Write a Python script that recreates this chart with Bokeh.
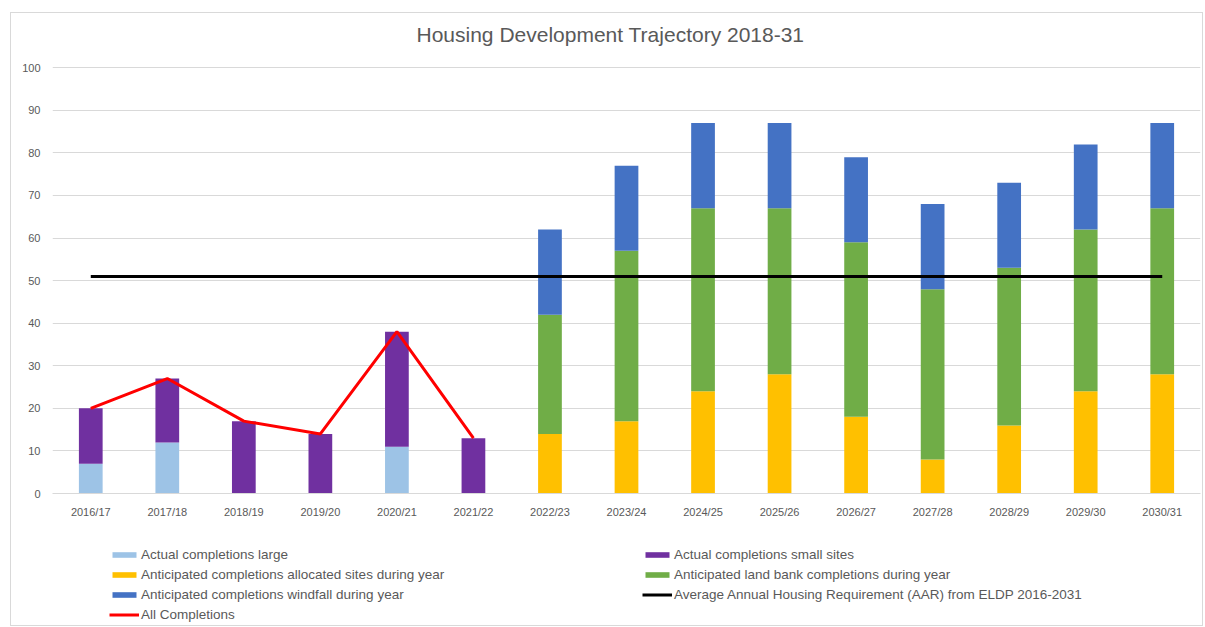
from bokeh.plotting import figure
from bokeh.layouts import column
from bokeh.models import Legend, LegendItem, FactorRange, ColumnDataSource, Title
from bokeh.embed import file_html
from bokeh.resources import INLINE

years = ["2016/17", "2017/18", "2018/19", "2019/20", "2020/21", "2021/22", "2022/23",
         "2023/24", "2024/25", "2025/26", "2026/27", "2027/28", "2028/29", "2029/30", "2030/31"]
actual_large = [7, 12, 0, 0, 11, 0, 0, 0, 0, 0, 0, 0, 0, 0, 0]
actual_small = [13, 15, 17, 14, 27, 13, 0, 0, 0, 0, 0, 0, 0, 0, 0]
allocated = [0, 0, 0, 0, 0, 0, 14, 17, 24, 28, 18, 8, 16, 24, 28]
land_bank = [0, 0, 0, 0, 0, 0, 28, 40, 43, 39, 41, 40, 37, 38, 39]
windfall = [0, 0, 0, 0, 0, 0, 20, 20, 20, 20, 20, 20, 20, 20, 20]
aar = [51] * 15
all_completions_years = years[:6]
all_completions = [20, 27, 17, 14, 38, 13]

series = ["large", "small", "allocated", "land_bank", "windfall"]
colors = ["#9DC3E6", "#7030A0", "#FFC000", "#70AD47", "#4472C4"]
labels = ["Actual completions large", "Actual completions small sites",
          "Anticipated completions allocated sites during year",
          "Anticipated land bank completions during year",
          "Anticipated completions windfall during year"]
aar_label = "Average Annual Housing Requirement (AAR) from ELDP 2016-2031"
all_label = "All Completions"
chart_title = "Housing Development Trajectory 2018-31"

src = ColumnDataSource(dict(x=years, large=actual_large, small=actual_small,
                            allocated=allocated, land_bank=land_bank, windfall=windfall, aar=aar))

p = figure(x_range=FactorRange(*years, range_padding=0), y_range=(0, 100.3),
           width=1191, height=507, output_backend="svg", toolbar_location=None,
           min_border_left=41, min_border_right=2, min_border_top=53)
p.title = None

# spacer panel between frame and title, then the title itself
p.add_layout(Title(text=" ", text_font_size="1px", standoff=18), "above")
p.add_layout(Title(text=chart_title, align="left", offset=364, standoff=0,
                   text_font="Liberation Sans", text_font_size="21px",
                   text_font_style="normal", text_color="#595959"), "above")

p.vbar_stack(series, x="x", width=0.31, color=colors, source=src, line_width=0)
p.line(x="x", y="aar", source=src, line_color="black", line_width=3)
p.line(x=all_completions_years, y=all_completions, line_color="#FF0000", line_width=3)

p.outline_line_color = None
p.xgrid.grid_line_color = None
p.ygrid.grid_line_color = "#d9d9d9"
p.ygrid.grid_line_width = 1
p.yaxis.ticker = list(range(0, 101, 10))
p.yaxis.axis_line_color = None
p.yaxis.major_tick_line_color = None
p.yaxis.minor_tick_line_color = None
p.yaxis.major_label_text_color = "#595959"
p.yaxis.major_label_text_font = "Liberation Sans"
p.yaxis.major_label_text_font_size = "11px"
p.yaxis.major_label_standoff = 6
p.xaxis.axis_line_color = "#d9d9d9"
p.xaxis.major_tick_line_color = None
p.xaxis.minor_tick_line_color = None
p.xaxis.major_label_text_color = "#595959"
p.xaxis.major_label_text_font = "Liberation Sans"
p.xaxis.major_label_text_font_size = "11px"
p.xaxis.major_label_standoff = 6

# legend-only figure
lf = figure(width=1191, height=105, x_range=(0, 1), y_range=(0, 1),
            output_backend="svg", toolbar_location=None,
            x_axis_location=None, y_axis_location=None,
            min_border=0)
lf.outline_line_color = None
lf.xgrid.grid_line_color = None
lf.ygrid.grid_line_color = None
offscreen = ColumnDataSource(dict(x=[-10, -11], y=[-10, -11]))
bar_r = [lf.rect(x="x", y="y", width=0.1, height=0.1, fill_color=c, line_width=0, source=offscreen)
         for c in colors]
aar_r = lf.line(x="x", y="y", line_color="black", line_width=3, source=offscreen)
all_r = lf.line(x="x", y="y", line_color="#FF0000", line_width=3, source=offscreen)

# column-major fill: first column then second column
items = [
    LegendItem(label=labels[0], renderers=[bar_r[0]]),
    LegendItem(label=labels[2], renderers=[bar_r[2]]),
    LegendItem(label=labels[4], renderers=[bar_r[4]]),
    LegendItem(label=all_label, renderers=[all_r]),
    LegendItem(label=labels[1], renderers=[bar_r[1]]),
    LegendItem(label=labels[3], renderers=[bar_r[3]]),
    LegendItem(label=aar_label, renderers=[aar_r]),
]
legend = Legend(items=items, ncols=2, location=(57, 3),
                label_text_font="Liberation Sans", label_text_font_size="13.5px",
                label_text_color="#595959", glyph_width=30, glyph_height=7,
                label_height=14, label_width=496, spacing=5, label_standoff=2,
                border_line_color=None, background_fill_alpha=0, margin=0, padding=0)
lf.add_layout(legend, "center")

layout = column(p, lf, spacing=0)
layout.styles = {"border": "1px solid #d9d9d9", "margin-left": "10px", "margin-top": "12px"}

open("out.html", "w").write(file_html(layout, INLINE))
